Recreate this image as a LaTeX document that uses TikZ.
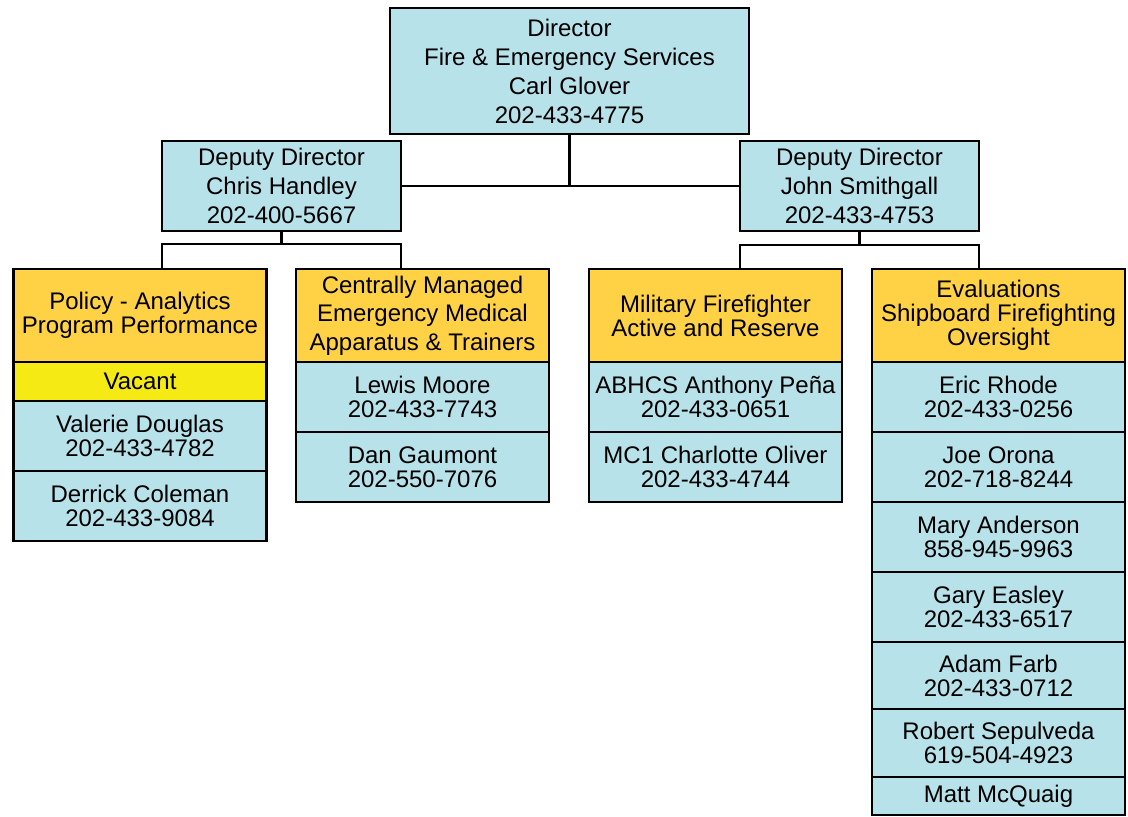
\documentclass[tikz,border=0pt]{standalone}
\usepackage{fontspec}
\setmainfont{Liberation Sans}
\usepackage{tikz}
\usetikzlibrary{positioning}
\definecolor{staffblue}{HTML}{B8E2EA}
\definecolor{headorange}{HTML}{FFD246}
\definecolor{vacantyellow}{HTML}{F5EA14}
\tikzstyle{boss} = [rectangle, draw, line width=2.2pt, fill=staffblue, align=center,
    inner sep=0pt, outer sep=0pt, font=\fontsize{24}{29}\selectfont]
\tikzstyle{head} = [rectangle, draw, line width=2.2pt, fill=headorange, align=center,
    inner sep=0pt, outer sep=0pt, minimum width=253, minimum height=93]
\tikzstyle{member} = [rectangle, draw, line width=2.2pt, fill=staffblue, align=center,
    inner sep=0pt, outer sep=0pt, minimum width=253, minimum height=70, font=\fontsize{24}{24}\selectfont]
\tikzstyle{link} = [draw, line width=2.2pt]

\begin{document}
\begin{tikzpicture}[x=1pt, y=-1pt, node distance=0pt]
		\useasboundingbox (0,0) rectangle (1128,817);
		% top level
		\node [boss, minimum width=359, minimum height=126] (dir) at (569.5,71) {Director\\
			Fire \& Emergency Services\\ Carl Glover\\ 202-433-4775};
		\node [boss, minimum width=239, minimum height=90] (dl) at (281.5,186) {Deputy Director\\
			Chris Handley\\ 202-400-5667};
		\node [boss, minimum width=239, minimum height=90] (dr) at (859.5,186) {Deputy Director\\
			John Smithgall\\ 202-433-4753};
		
		% branch heads
		\node [head, font=\fontsize{24}{24}\selectfont] (pol) at (140,315.5) {Policy - Analytics\\
			Program Performance};
		\node [head, font=\fontsize{24}{28.5}\selectfont] (cen) at (422.5,315.5) {Centrally Managed\\
			Emergency Medical\\ Apparatus \& Trainers};
		\node [head, font=\fontsize{24}{24}\selectfont] (mil) at (715.5,315.5) {Military Firefighter\\
			Active and Reserve};
		\node [head, font=\fontsize{24}{24}\selectfont] (eva) at (998.5,315.5) {Evaluations\\
			Shipboard Firefighting\\ Oversight};
		
		% staff
		\node [member, fill=vacantyellow, minimum height=39, below=of pol] (vac) {Vacant};
		\node [member, below=of vac] (val) {Valerie Douglas\\ 202-433-4782};
		\node [member, below=of val] (der) {Derrick Coleman\\ 202-433-9084};
		
		\node [member, below=of cen] (lew) {Lewis Moore\\ 202-433-7743};
		\node [member, below=of lew] (dan) {Dan Gaumont\\ 202-550-7076};
		
		\node [member, below=of mil] (abh) {ABHCS Anthony Peña\\ 202-433-0651};
		\node [member, below=of abh] (mco) {MC1 Charlotte Oliver\\ 202-433-4744};
		
		\node [member, below=of eva] (eri) {Eric Rhode\\ 202-433-0256};
		\node [member, below=of eri] (joe) {Joe Orona\\ 202-718-8244};
		\node [member, below=of joe] (mar) {Mary Anderson\\ 858-945-9963};
		\node [member, below=of mar] (gar) {Gary Easley\\ 202-433-6517};
		\node [member, minimum height=67, below=of gar] (ada) {Adam Farb\\ 202-433-0712};
		\node [member, minimum height=68, below=of ada] (rob) {Robert Sepulveda\\ 619-504-4923};
		\node [member, minimum height=38, below=of rob] (mat) {Matt McQuaig};
		
		\coordinate (dlb) at ([yshift=-13pt]dl.south);
		\coordinate (drb) at ([yshift=-14pt]dr.south);
		
		\draw [link] (dir.south) -- (dir.south |- dl.east);
		\draw [link] (dl.east) -- (dr.west);
		\draw [link] (dl.south) -- (dlb);
		\draw [link] (pol.north -| dl.west) |- (dlb) -| (cen.north -| dl.east);
		\draw [link] (dr.south) -- (drb);
		\draw [link] (mil.north -| dr.west) |- (drb) -| (eva.north -| dr.east);
		
		\end{tikzpicture}
\end{document}
